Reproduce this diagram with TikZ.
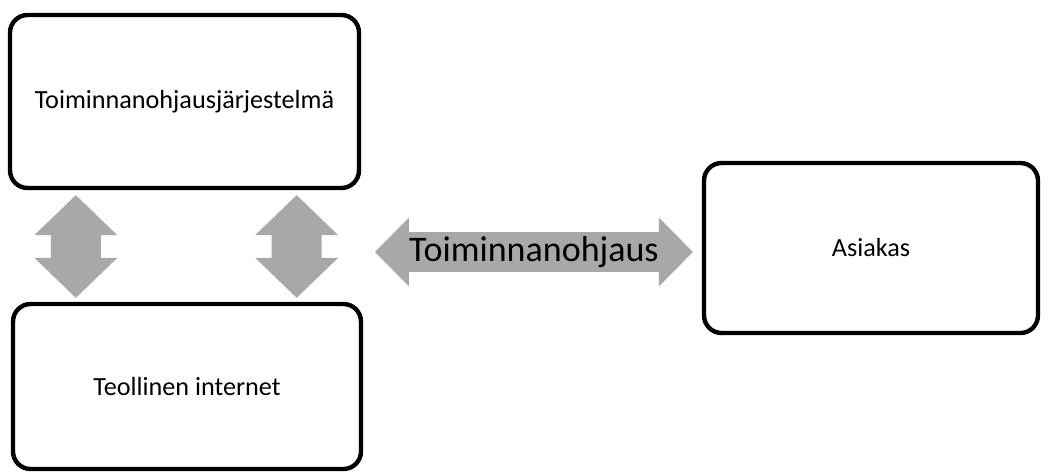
\documentclass[tikz,border=0pt]{standalone}
\usepackage{fontspec}
\setmainfont{Carlito}
\usetikzlibrary{positioning, arrows.meta}
\definecolor{arrowgray}{RGB}{168,168,168}

\begin{document}
\begin{tikzpicture}[x=0.02cm, y=-0.02cm,
    box/.style = {draw, line width=2.5pt, rounded corners=0.35cm, font=\fontsize{14.9}{18}\selectfont},
    link/.style = {arrowgray, line width=1cm, {Triangle[length=0.8cm, width=1.66cm, line width=0pt]}-{Triangle[length=0.8cm, width=1.66cm, line width=0pt]}},
    flow/.style = {arrowgray, line width=0.82cm, {Triangle[length=0.68cm, width=1.38cm, line width=0pt]}-{Triangle[length=0.68cm, width=1.38cm, line width=0pt]}}]
    \useasboundingbox (0,0) rectangle (1047,473);

    \node[box, minimum width=6.98cm, minimum height=3.46cm] (erp) at (184.5,101.5) {Toiminnanohjausjärjestelmä};
    \node[box, minimum width=6.96cm, minimum height=3.3cm] (iiot) at (187,386.5) {Teollinen internet};
    \node[box, minimum width=6.68cm, minimum height=3.4cm] (client) at (871,248) {Asiakas};

    % erp <-> teollinen internet
    \draw[link] ([shift={(68,5)}]erp.south west) -- ([shift={(65,-4)}]iiot.north west);
    \draw[link] ([shift={(-64.5,5)}]erp.south east) -- ([shift={(-66.5,-4)}]iiot.north east);

    % toiminnanohjaus <-> asiakas
    \coordinate (fl) at (375,252);
    \coordinate (fr) at ([shift={(-9,4)}]client.west);
    \draw[flow] (fl) -- (fr) node[midway, black, font=\fontsize{20.5}{24}\selectfont] {Toiminnanohjaus};
\end{tikzpicture}
\end{document}
